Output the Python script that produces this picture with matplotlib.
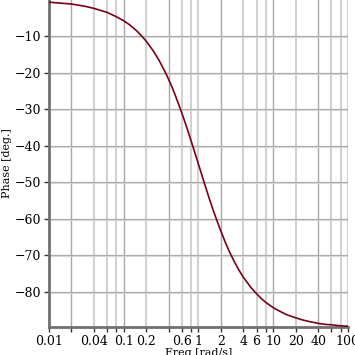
import numpy as np
import matplotlib
matplotlib.use("Agg")
import matplotlib.pyplot as plt
from matplotlib.ticker import FixedLocator, FixedFormatter, NullLocator

# values
freq = [0.01, 0.015, 0.02, 0.03, 0.04, 0.05, 0.06, 0.08, 0.1, 0.12, 0.15,
        0.18, 0.2, 0.25, 0.3, 0.35, 0.4, 0.45, 0.5, 0.6, 0.7, 0.8, 0.9, 1.0,
        1.1, 1.2, 1.4, 1.6, 1.8, 2.0, 2.3, 2.6, 3.0, 3.5, 4.0, 5.0, 6.0, 7.0,
        8.0, 10, 12, 15, 20, 25, 30, 40, 50, 60, 80, 100]
phase = [-0.6, -0.9, -1.1, -1.7, -2.3, -2.9, -3.4, -4.6, -5.7, -6.8, -8.5,
         -10.2, -11.3, -14.0, -16.7, -19.3, -21.8, -24.2, -26.6, -31.0, -35.0,
         -38.7, -42.0, -45.0, -47.7, -50.2, -54.5, -58.0, -60.9, -63.4, -66.5,
         -69.0, -71.6, -74.1, -76.0, -78.7, -80.5, -81.9, -82.9, -84.3, -85.2,
         -86.2, -87.1, -87.7, -88.1, -88.6, -88.9, -89.0, -89.3, -89.4]

dark_x = [0.02, 0.1, 0.4, 2, 10, 40]
light_x = [0.01, 0.04, 0.06, 0.08, 0.2, 0.6, 0.8, 1, 4, 6, 8, 20, 60, 80, 100]
tick_x = sorted(dark_x + light_x)
xlabels = {0.01: "0.01", 0.04: "0.04", 0.1: "0.1", 0.2: "0.2", 0.6: "0.6",
           1: "1", 2: "2", 4: "4", 6: "6", 10: "10", 20: "20", 40: "40",
           100: "100"}
yticks = [-10, -20, -30, -40, -50, -60, -70, -80]

plt.rcParams["font.family"] = "DejaVu Serif"
fig = plt.figure(figsize=(3.55, 3.55), dpi=100)
ax = fig.add_axes([0.138, 0.079, 0.842, 0.921])

for x in light_x:
    ax.axvline(x, color="#d2d2d2", lw=1.5, zorder=0)
for x in dark_x:
    ax.axvline(x, color="#a8a8a8", lw=1.0, zorder=0)
for y in yticks:
    ax.axhline(y - 0.25, color="#d6d6d6", lw=1.2, zorder=0)
    ax.axhline(y, color="#adadad", lw=0.9, zorder=0)

ax.plot(freq, phase, color="#7a0019", lw=1.2, zorder=3)

ax.set_xscale("log")
ax.set_xlim(0.01, 100)
ax.set_ylim(-89.6, 0)
ax.xaxis.set_major_locator(FixedLocator(tick_x))
ax.xaxis.set_major_formatter(FixedFormatter([xlabels.get(x, "") for x in tick_x]))
ax.xaxis.set_minor_locator(NullLocator())
ax.set_yticks(yticks)
ax.set_yticklabels(["\u2212%d" % abs(v) for v in yticks])

ax.tick_params(axis="both", labelsize=9, length=3.5, width=1, color="#333333", pad=2)
for side in ["top", "right"]:
    ax.spines[side].set_visible(False)
for side in ["left", "bottom"]:
    ax.spines[side].set_color("#707070")
    ax.spines[side].set_linewidth(2)

ax.set_xlabel("Freq [rad/s]", fontsize=8, labelpad=0)
ax.set_ylabel("Phase [deg.]", fontsize=8, labelpad=2)

fig.savefig("out.png", dpi=100)
